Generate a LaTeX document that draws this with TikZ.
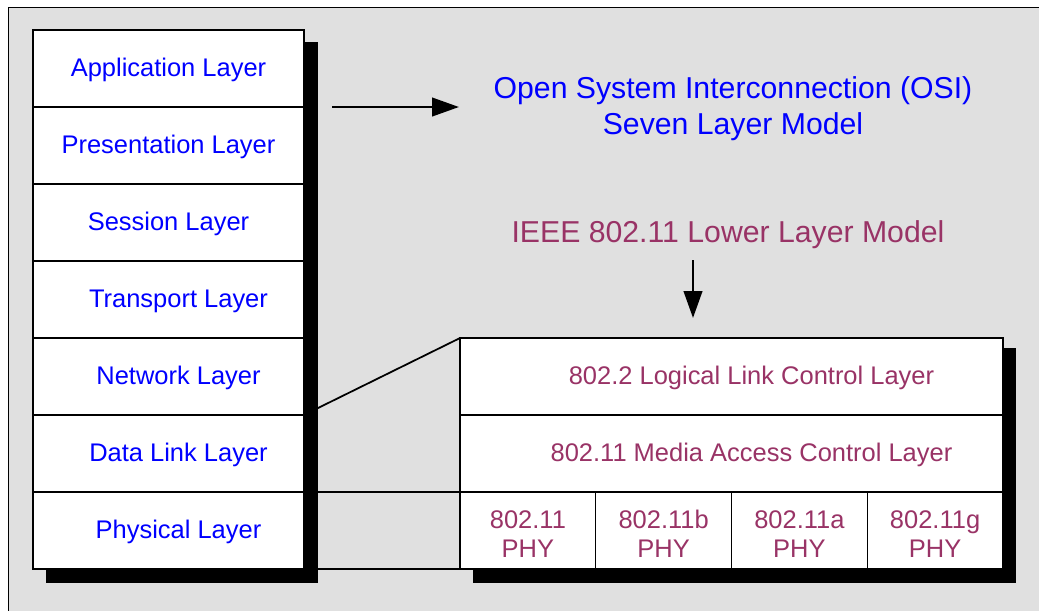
\documentclass[tikz,border=0pt]{standalone}
\usepackage{fontspec}
\setmainfont{Liberation Sans}
\usetikzlibrary{positioning}
\usetikzlibrary{arrows.meta}
\usetikzlibrary{backgrounds}
\definecolor{osiblue}{RGB}{0,0,255}
\definecolor{ieeered}{RGB}{153,51,102}
\definecolor{panelgray}{RGB}{224,224,224}
\tikzset{% layer boxes and arrows
        layerbox/.style={draw, fill=white, minimum height=1.54cm, outer sep=0pt, inner sep=0pt},
        osilayer/.style={layerbox, minimum width=5.42cm, text=osiblue,
          text height=0.44cm, text depth=0.11cm, font=\fontsize{14.5}{17}\selectfont},
        ieeelayer/.style={osilayer, minimum width=10.86cm, text=ieeered},
        phylayer/.style={layerbox, minimum width=2.715cm, text=ieeered, align=center,
          font=\fontsize{14.5}{16.6}\selectfont},
        zoomline/.style={line width=1pt},
        bigarrow/.style={line width=1.5pt, -{Triangle[length=0.54cm,width=0.37cm]}}
        }

\begin{document}
\begin{tikzpicture}[x=0.02cm, y=-0.02cm, line width=0.75pt]
\useasboundingbox (0,0) rectangle (1039,610);
% OSI seven layers
\node [osilayer] (app) at (168.5,68.5) {Application Layer};
\node [osilayer, below=0pt of app] (pres) {Presentation Layer};
\node [osilayer, below=0pt of pres] (sess) {Session Layer};
\node [osilayer, below=0pt of sess] (trans) {\hspace*{0.4cm}Transport Layer};
\node [osilayer, below=0pt of trans] (net) {\hspace*{0.4cm}Network Layer};
\node [osilayer, below=0pt of net] (dl) {\hspace*{0.4cm}Data Link Layer};
\node [osilayer, below=0pt of dl] (phys) {\hspace*{0.4cm}Physical Layer};
% IEEE 802.11 lower layers
\node [ieeelayer] (llc) at (731.5,376.5) {\hspace*{0.8cm}802.2 Logical Link Control Layer};
\node [ieeelayer, below=0pt of llc] (mac) {\hspace*{0.8cm}802.11 Media Access Control Layer};
\node [phylayer, anchor=north west] (phya) at (mac.south west) {\rule{0pt}{0.5cm}802.11\\PHY};
\node [phylayer, right=0pt of phya] (phyb) {\rule{0pt}{0.5cm}802.11b\\PHY};
\node [phylayer, right=0pt of phyb] (phyc) {\rule{0pt}{0.5cm}802.11a\\PHY};
\node [phylayer, right=0pt of phyc] (phyd) {\rule{0pt}{0.5cm}802.11g\\PHY};
% titles
\node [text=osiblue, align=center, font=\fontsize{17.2}{20.5}\selectfont] (osititle) at (733,109)
  {Open System Interconnection (OSI)\\Seven Layer Model};
\node [text=ieeered, anchor=base, font=\fontsize{17.2}{20.5}\selectfont] (ieeetitle) at (728,242)
  {IEEE 802.11 Lower Layer Model};
% arrows
\coordinate (osiarrow) at (332,107);
\coordinate (osiarrowend) at (459,107);
\coordinate (ieeearrow) at (693,260);
\coordinate (ieeearrowend) at (693,318);
\draw [bigarrow] (osiarrow) -- (osiarrowend);
\draw [bigarrow] (ieeearrow) -- (ieeearrowend);
% panel, zoom lines and shadows
\begin{scope}[on background layer]
\draw [fill=panelgray] (8,7) rectangle (1070,640);
\draw [zoomline] (dl.north east) -- (llc.north west);
\draw [zoomline] (phys.north east) -- (phya.north west);
\draw [zoomline] (phys.south east) -- (phya.south west);
\fill ([shift={(13,12)}]app.north west) rectangle ([shift={(14,14)}]phys.south east);
\fill ([shift={(13,10)}]llc.north west) rectangle ([shift={(13,14)}]phyd.south east);
\end{scope}
\end{tikzpicture}
\end{document}
